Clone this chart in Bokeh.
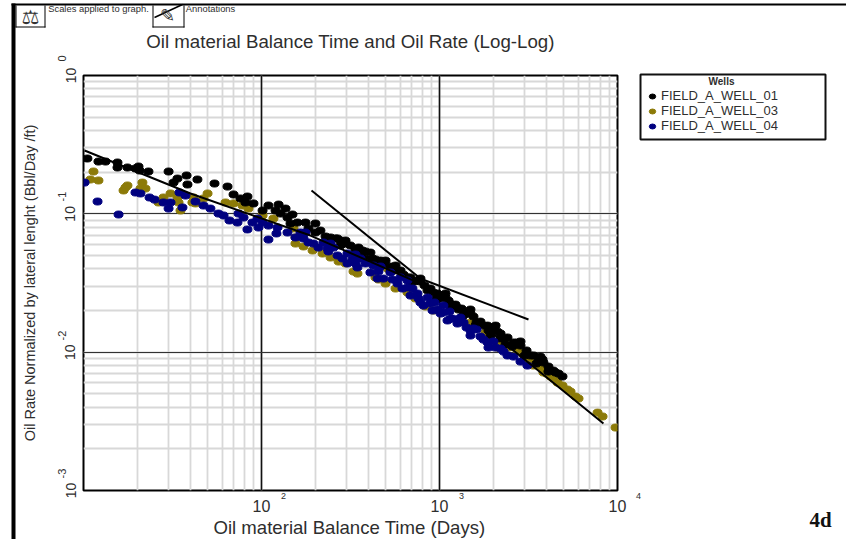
from bokeh.plotting import figure
from bokeh.models import Label, Legend, LegendItem, LogTicker, Range1d, Grid
from bokeh.embed import file_html
from bokeh.resources import INLINE
import math

# values, as log10(days) and log10(rate)
well_01_log_days = [1.022,1.084,1.124,1.191,1.191,1.247,1.292,1.309,1.315,1.365,1.478,1.528,1.506,1.579,1.584,1.640,1.736,1.809,1.843,1.921,1.882,1.910,1.955,2.006,2.039,2.096,2.079,2.135,2.107,2.174,2.146,2.163,2.202,2.247,2.264,2.303,2.331,2.303,2.388,2.427,2.444,2.500,2.545,2.567,2.556,2.624,2.669,2.685,2.725,2.764,2.798,2.837,2.876,2.916,2.949,2.989,3.017,3.051,3.090,3.124,3.157,3.191,3.230,3.270,3.303,3.343,3.382,3.416,3.455,3.489,3.528,3.556,3.584,3.612,3.640,3.669,3.691,2.860,2.933,3.006,3.073,3.140,3.208,3.275,3.343,3.410,3.478,3.545,3.612,2.472,2.612,2.753,2.893,3.034,3.174,3.315,3.455,3.567,
                    2.360,2.416,2.472,2.528,2.584,2.640,2.697,2.742,2.781,2.820,2.893,2.966,3.034,3.107,3.174,3.247,3.326,3.365,3.438,3.511,3.579,3.652,
                    2.983,3.062,3.129,3.202,3.287,3.371,2.444,2.584,2.725,2.837]
well_01_log_rate = [-.600,-.622,-.622,-.629,-.665,-.665,-.672,-.658,-.687,-.694,-.694,-.745,-.774,-.723,-.788,-.752,-.781,-.803,-.860,-.875,-.889,-.918,-.925,-.976,-.940,-.933,-.976,-.962,-.998,-1.005,-1.027,-1.070,-1.063,-1.063,-1.106,-1.070,-1.121,-1.135,-1.171,-1.178,-1.193,-1.229,-1.244,-1.265,-1.287,-1.323,-1.338,-1.359,-1.381,-1.410,-1.439,-1.460,-1.482,-1.518,-1.540,-1.576,-1.591,-1.627,-1.656,-1.685,-1.721,-1.742,-1.779,-1.808,-1.836,-1.865,-1.894,-1.930,-1.952,-1.988,-2.024,-2.046,-2.075,-2.104,-2.133,-2.155,-2.176,-1.489,-1.554,-1.612,-1.670,-1.728,-1.786,-1.844,-1.901,-1.959,-2.024,-2.082,-2.140,-1.193,-1.280,-1.374,-1.468,-1.576,-1.692,-1.808,-1.923,-2.032,
                    -1.164,-1.178,-1.215,-1.258,-1.272,-1.330,-1.338,-1.403,-1.410,-1.460,-1.489,-1.569,-1.605,-1.692,-1.721,-1.808,-1.851,-1.901,-1.930,-2.024,-2.053,-2.147,
                    -1.612,-1.670,-1.742,-1.808,-1.880,-1.945,-1.229,-1.323,-1.417,-1.504]

well_03_log_days = [1.056,1.039,1.084,1.225,1.236,1.247,1.331,1.320,1.348,1.421,1.449,1.489,1.528,1.534,1.545,1.618,1.629,1.697,1.674,1.612,1.798,1.843,1.893,1.927,2.006,2.067,2.180,2.191,2.191,2.236,2.287,2.343,2.433,2.472,2.517,2.539,2.640,2.657,2.753,2.820,2.966,2.640,2.708,3.174,3.258,3.326,3.326,3.388,3.438,3.472,3.500,3.528,3.567,3.584,3.624,3.663,3.691,3.719,3.764,3.781,3.888,3.916,3.989,
                    3.360,3.399,3.472,3.511,3.551,3.601,3.640,3.736,2.388,2.697,2.865,2.921]
well_03_log_rate = [-.694,-.752,-.759,-.831,-.810,-.795,-.774,-.817,-.817,-.918,-.882,-.853,-.882,-.918,-.976,-.882,-.925,-.853,-.889,-.918,-.918,-.925,-.940,-.962,-1.012,-1.034,-1.106,-1.171,-1.215,-1.236,-1.265,-1.287,-1.345,-1.359,-1.417,-1.432,-1.460,-1.475,-1.540,-1.569,-1.699,-1.374,-1.395,-1.786,-1.858,-1.923,-1.967,-1.967,-1.988,-2.061,-2.046,-2.097,-2.111,-2.147,-2.176,-2.220,-2.241,-2.270,-2.321,-2.335,-2.437,-2.465,-2.545,
                    -1.923,-1.959,-2.017,-2.075,-2.090,-2.155,-2.191,-2.285,-1.316,-1.504,-1.612,-1.670]

well_04_log_days = [1.006,1.079,1.197,1.292,1.320,1.371,1.399,1.449,1.489,1.478,1.539,1.573,1.556,1.629,1.674,1.713,1.758,1.787,1.820,1.865,1.871,1.899,1.921,1.949,1.978,1.983,2.006,2.039,2.090,2.084,2.039,2.146,2.191,2.247,2.236,2.264,2.292,2.348,2.371,2.405,2.427,2.483,2.483,2.539,2.556,2.584,2.612,2.629,2.685,2.725,2.764,2.820,2.820,2.837,2.876,2.882,2.910,2.933,2.949,3.006,3.022,3.022,3.073,3.101,3.118,3.174,3.191,3.230,3.270,3.343,3.382,3.416,3.494,2.219,
                    2.320,2.376,2.455,2.511,2.528,2.657,2.652,2.736,2.792,2.848,2.893,2.972,2.989,3.056,3.062,3.135,3.152,3.208,3.247,3.303,3.315,3.360,3.455,
                    2.961,3.045,3.174,3.275,2.388,2.528,2.669,2.781]
well_04_log_rate = [-.774,-.911,-1.005,-.846,-.853,-.882,-.897,-.918,-.918,-.962,-.846,-.868,-.954,-.911,-.940,-.962,-.998,-1.012,-1.048,-1.063,-.998,-1.027,-1.113,-1.063,-1.034,-1.099,-1.063,-1.085,-1.099,-1.142,-1.186,-1.135,-1.171,-1.135,-1.178,-1.207,-1.215,-1.207,-1.251,-1.244,-1.301,-1.287,-1.359,-1.388,-1.323,-1.359,-1.424,-1.374,-1.468,-1.424,-1.504,-1.482,-1.533,-1.591,-1.576,-1.612,-1.663,-1.605,-1.648,-1.721,-1.663,-1.714,-1.757,-1.793,-1.750,-1.844,-1.829,-1.887,-1.930,-1.974,-2.024,-2.032,-2.097,-1.135,
                    -1.244,-1.272,-1.323,-1.330,-1.359,-1.417,-1.468,-1.475,-1.540,-1.540,-1.641,-1.641,-1.692,-1.706,-1.757,-1.786,-1.822,-1.836,-1.909,-1.923,-1.967,-1.996,-2.068,
                    -1.699,-1.771,-1.880,-1.967,-1.215,-1.294,-1.381,-1.460]

trend_log_days = [1.006,1.601,2.275,2.893,3.118,3.326,3.921]
trend_log_rate = [-.542,-.853,-1.157,-1.504,-1.663,-1.894,-2.516]
steep_log_days = [2.281,2.893]
steep_log_rate = [-.831,-1.468]
shallow_log_days = [2.876,3.500]
shallow_log_rate = [-1.460,-1.764]

x_ticks = {10: "", 100: "10", 1000: "10", 10000: "10"}
y_ticks = {0.001: "10", 0.01: "10", 0.1: "10", 1: "10"}
x_exponents = ["2", "3", "4"]
y_exponents = ["0", "-1", "-2", "-3"]
well_names = ["FIELD_A_WELL_01", "FIELD_A_WELL_03", "FIELD_A_WELL_04"]
well_colors = ["#000000", "#8c7a08", "#00007f"]
TXT = "#2e2e2e"
FONT = "Liberation Sans"

def ten(v):
    return [10 ** a for a in v]

p = figure(width=846, height=539, x_axis_type="log", y_axis_type="log",
           x_range=Range1d(10, 10000), y_range=Range1d(0.001, 1),
           output_backend="svg", toolbar_location=None,
           min_border_left=83, min_border_right=229, min_border_top=75, min_border_bottom=49,
           background_fill_color="white", border_fill_color="white",
           title="Oil material Balance Time and Oil Rate (Log-Log)",
           y_axis_label="Oil Rate Normalized by lateral lenght (Bbl/Day /ft)")
p.title.align = "center"
p.title.text_font = FONT
p.title.text_font_size = "18.7px"
p.title.text_font_style = "normal"
p.title.text_color = TXT
p.title.standoff = 48
p.outline_line_color = "black"
p.outline_line_width = 2

for g in (p.xgrid, p.ygrid):
    g.grid_line_color = None
    g.minor_grid_line_color = "#d8d8d8"
    g.minor_grid_line_width = 1.8

for ax, ov in ((p.xaxis, x_ticks), (p.yaxis, y_ticks)):
    ax.ticker = LogTicker(num_minor_ticks=10)
    ax.major_label_overrides = ov
    ax.major_tick_line_color = None
    ax.minor_tick_line_color = None
    ax.axis_line_color = None
    ax.major_label_text_font = FONT
    ax.major_label_text_color = TXT
    ax.axis_label_text_font = FONT
    ax.axis_label_text_font_style = "normal"
    ax.axis_label_text_color = TXT
p.xaxis.major_label_text_font_size = "16px"
p.yaxis.major_label_text_font_size = "14px"
p.xaxis.major_label_standoff = 3
p.yaxis.major_label_standoff = 2
p.yaxis.major_label_orientation = "vertical"
p.yaxis.axis_label_text_font_size = "14.5px"
p.yaxis.axis_label_standoff = 25

p.add_layout(Grid(dimension=0, ticker=LogTicker(num_minor_ticks=10), grid_line_color="#111111", grid_line_width=1.6))
p.add_layout(Grid(dimension=1, ticker=LogTicker(num_minor_ticks=10), grid_line_color="#333333", grid_line_width=1.2))

size = dict(width=9, height=7, width_units="screen", height_units="screen")
p.ellipse(ten(well_03_log_days), ten(well_03_log_rate), color=well_colors[1], **size)
p.ellipse(ten(well_01_log_days), ten(well_01_log_rate), color=well_colors[0], **size)
p.ellipse(ten(well_04_log_days), ten(well_04_log_rate), color=well_colors[2], **size)
for xs, ys in ((trend_log_days, trend_log_rate), (steep_log_days, steep_log_rate), (shallow_log_days, shallow_log_rate)):
    p.line(ten(xs), ten(ys), color="black", line_width=2)

# full-page transparent layer for the texts and frame pieces that lie outside the plot box
page = figure(width=846, height=539, x_range=Range1d(0, 846), y_range=Range1d(539, 0),
              x_axis_location=None, y_axis_location=None, min_border=0,
              background_fill_color=None, border_fill_color=None, outline_line_color=None,
              output_backend="svg", toolbar_location=None, margin=(-539, 0, 0, 0))
page.xgrid.visible = False
page.ygrid.visible = False

page.quad(left=[640], right=[825], top=[74], bottom=[139], fill_color="white", line_color="#111111", line_width=2)
keys = [page.ellipse([-50], [-50], width=9, height=7, width_units="screen", height_units="screen", color=c) for c in well_colors]
legend = Legend(items=[LegendItem(label=n, renderers=[r]) for n, r in zip(well_names, keys)],
                location=(647, 406), border_line_color=None,
                label_text_font=FONT, label_text_font_size="13px", label_text_color=TXT,
                padding=6, spacing=0, margin=0, label_height=15, glyph_height=8, glyph_width=10,
                label_standoff=4, background_fill_alpha=0)
page.add_layout(legend, "center")

def text(t, x, y, size, **kw):
    kw.setdefault("text_color", TXT)
    kw.setdefault("text_font", FONT)
    kw.setdefault("text_align", "center")
    kw.setdefault("text_baseline", "middle")
    page.add_layout(Label(x=x, y=y, text=t, text_font_size=f"{size}px", **kw))

def bar(l, r, t, b, col="black"):
    page.quad(left=[l], right=[r], top=[t], bottom=[b], color=col, line_color=None)

for e, x in zip(x_exponents, (283, 461, 638)):
    text(e, x, 495, 9)
for e, y in zip(y_exponents, (58, 196, 335, 473)):
    text(e, 61, y, 11, angle=math.pi / 2)

text("Oil material Balance Time (Days)", 349, 527, 18.6)
text("Wells", 721, 81, 10, text_font_style="bold")
text("4d", 820, 519, 21, text_font="Liberation Serif", text_font_style="bold", text_color="#111111")
text("Scales applied to graph.", 98, 8, 9.4)
text("Annotations", 210, 8, 9.4)
text("\u2696", 30, 16, 20, text_font="DejaVu Sans", text_color="#333333")
text("\u270E", 167, 15, 18, text_font="DejaVu Sans", text_color="#333333")
page.line([154, 182], [17, 4], color="black", line_width=1.5)

bar(11, 15, 3, 539)
bar(11, 846, 3, 5)
bar(15, 16, 5, 27); bar(44, 45, 5, 27); bar(15, 45, 26, 27)
bar(152, 153, 5, 27); bar(183, 184, 5, 27); bar(152, 184, 26, 27)

open("out.html", "w").write(file_html([p, page], INLINE))
